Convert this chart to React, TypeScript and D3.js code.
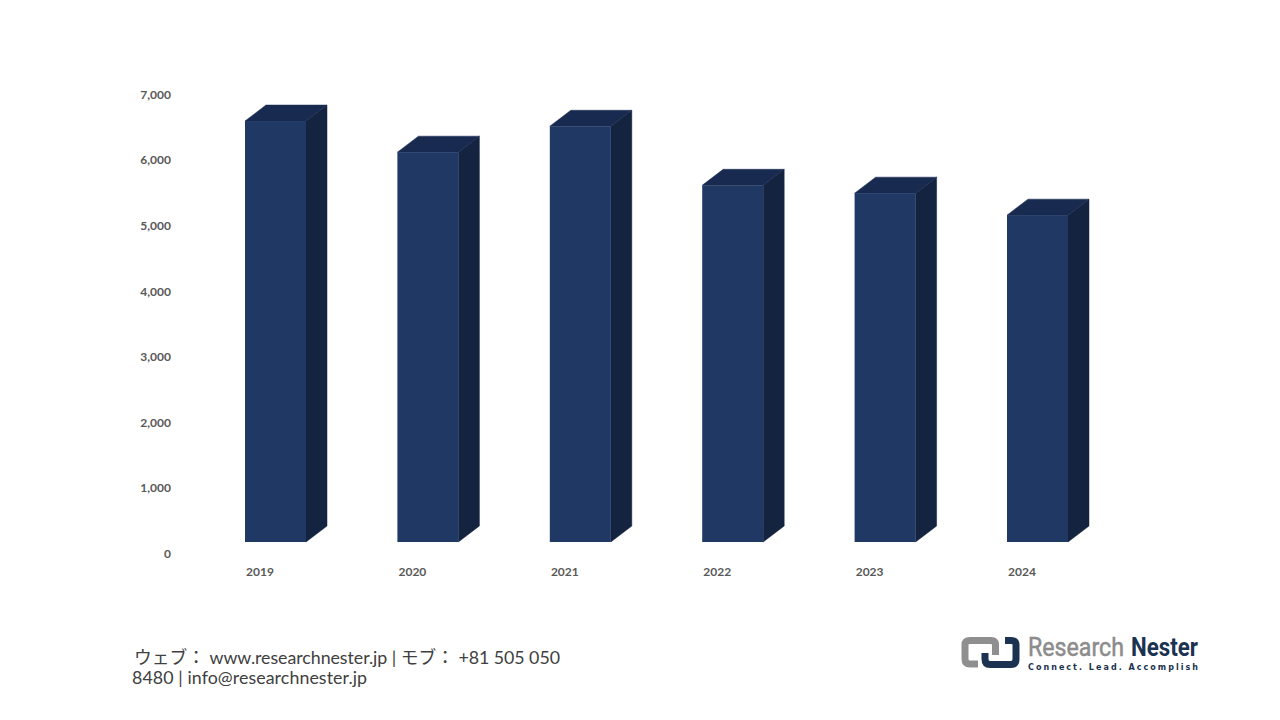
import React from "react";
import * as d3 from "d3";

const years = ["2019", "2020", "2021", "2022", "2023", "2024"];
const values = [6420, 5945, 6340, 5440, 5320, 4985];
const yTicks = [0, 1000, 2000, 3000, 4000, 5000, 6000, 7000];
const footerLines = [
  "ウェブ： www.researchnester.jp | モブ： +81 505 050",
  "8480 | info@researchnester.jp",
];

const W = 1280, H = 720;
const barW = 61, dx = 21, dy = 16;
const FONT = "Lato, 'Noto Sans CJK JP', sans-serif";

export default function App() {
  const x = d3.scalePoint<string>().domain(years).range([245, 1007]);
  const y = d3.scaleLinear().domain([0, 7000]).range([542, 83]);
  const yLabel = d3.scaleLinear().domain([0, 7000]).range([553.7, 94.7]);
  return (
    <svg width={W} height={H} viewBox={`0 0 ${W} ${H}`} style={{ position: "absolute", left: 0, top: 0, background: "#fff" }}>
      {yTicks.map((t) => (
        <text key={t} x={171} y={yLabel(t)} dy="0.35em" textAnchor="end" fontFamily={FONT} fontWeight={700} fontSize={12} fill="#595959">
          {d3.format(",")(t)}
        </text>
      ))}
      {years.map((yr, i) => {
        const x0 = x(yr)!;
        const top = y(values[i]);
        const base = y(0);
        const x1 = x0 + barW;
        return (
          <g key={yr}>
            <polygon points={`${x1},${top} ${x1 + dx},${top - dy} ${x1 + dx},${base - dy} ${x1},${base}`} fill="#14233f" stroke="#14233f" strokeWidth={0.5} />
            <polygon points={`${x0},${top} ${x0 + dx},${top - dy} ${x1 + dx},${top - dy} ${x1},${top}`} fill="#182a50" stroke="#182a50" strokeWidth={0.5} />
            <rect x={x0} y={top} width={barW} height={base - top} fill="#1f3864" />
            <text x={x0 + 15} y={571.7} dy="0.35em" textAnchor="middle" fontFamily={FONT} fontWeight={700} fontSize={12} fill="#595959">
              {yr}
            </text>
          </g>
        );
      })}
      <text x={134} y={664} fontFamily={FONT} fontSize={17.8} fill="#404040" textLength={426} lengthAdjust="spacing">{footerLines[0]}</text>
      <text x={132} y={684} fontFamily={FONT} fontSize={17.8} fill="#404040" textLength={235} lengthAdjust="spacing">{footerLines[1]}</text>
      <g fill="none" strokeWidth={7}>
        <path d="M978,664 H970 Q965,664 965,659 V645 Q965,640.5 970,640.5 H991 Q995.5,640.5 995.5,645 V655" stroke="#8f8f8f" />
        <path d="M1005,640.5 H1011 Q1016,640.5 1016,645 V659 Q1016,664.5 1011,664.5 H990 Q985,664.5 985,659 V653" stroke="#1b3350" />
      </g>
      <text x={1028} y={656} fontFamily="'Liberation Sans Narrow','Roboto',sans-serif" fontSize={26} fill="#8c8c8c" stroke="#8c8c8c" strokeWidth={0.5} textLength={96} lengthAdjust="spacingAndGlyphs">Research</text>
      <text x={1131} y={656} fontFamily="'Liberation Sans Narrow','Roboto',sans-serif" fontWeight={700} fontSize={26} fill="#1b3350" textLength={67} lengthAdjust="spacingAndGlyphs">Nester</text>
      <text x={1028} y={669.5} fontFamily="'DejaVu Sans',sans-serif" fontWeight={700} fontSize={8} fill="#1b3350" textLength={170} lengthAdjust="spacing">Connect. Lead. Accomplish</text>
    </svg>
  );
}
